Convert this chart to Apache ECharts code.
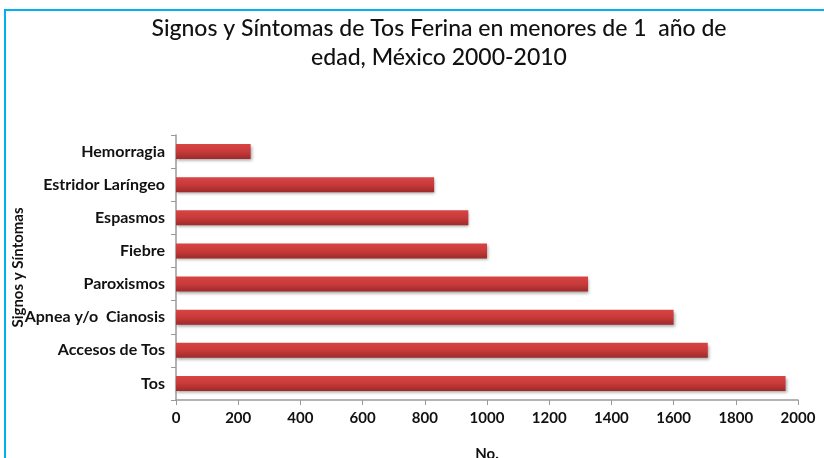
<!DOCTYPE html>
<html><head><meta charset="utf-8">
<script src="https://cdn.jsdelivr.net/npm/echarts@6/dist/echarts.min.js"></script>
<style>html,body{margin:0;padding:0;background:#fff}#c{width:824px;height:458px}</style>
</head><body><div id="c"></div>
<script>
const categories = ['Hemorragia','Estridor Laríngeo','Espasmos','Fiebre','Paroxismos','Apnea y/o  Cianosis','Accesos de Tos','Tos'];
const values = [240, 830, 940, 1000, 1325, 1600, 1710, 1960];
const xTicks = [0,200,400,600,800,1000,1200,1400,1600,1800,2000];

const chart = echarts.init(document.getElementById('c'));
const font = 'Lato, "Open Sans", sans-serif';
chart.setOption({
  animation: false,
  backgroundColor: '#fff',
  title: {
    text: 'Signos y Síntomas de Tos Ferina en menores de 1  año de\nedad, México 2000-2010',
    left: 434, top: 9, textAlign: 'center',
    textStyle: {fontFamily: font, fontSize: 23, fontWeight: 500, color: '#111', lineHeight: 29}
  },
  graphic: [{
    type: 'rect', shape: {x: 5, y: 10, width: 900, height: 600},
    style: {fill: 'none', stroke: '#00b0f0', lineWidth: 2}, silent: true
  }],
  grid: {left: 176, right: 26, top: 135, bottom: 58, containLabel: false, outerBoundsMode: 'none'},
  xAxis: {
    type: 'value', min: 0, max: 2000, interval: 200,
    name: 'No.', nameLocation: 'middle', nameGap: 47,
    nameTextStyle: {fontFamily: font, fontSize: 15, fontWeight: 'bold', color: '#111'},
    axisLine: {show: true, lineStyle: {color: '#9a9a9a', width: 1.5}},
    axisTick: {show: true, length: 5, lineStyle: {color: '#9a9a9a'}},
    axisLabel: {fontFamily: font, fontSize: 15, fontWeight: 'bold', color: '#111', margin: 11,
      formatter: v => xTicks.includes(v) ? String(v) : ''},
    splitLine: {show: false}
  },
  yAxis: {
    type: 'category', data: categories, inverse: true,
    name: 'Signos y Síntomas', nameLocation: 'middle', nameGap: 150, nameRotate: 90,
    nameMoveOverlap: false,
    nameTextStyle: {fontFamily: font, fontSize: 15, fontWeight: 'bold', color: '#111'},
    axisLine: {show: true, lineStyle: {color: '#9a9a9a', width: 1.5}},
    axisTick: {show: true, length: 5, alignWithLabel: false, lineStyle: {color: '#9a9a9a'}},
    axisLabel: {fontFamily: font, fontSize: 16, fontWeight: 'bold', color: '#111', margin: 11}
  },
  series: [{
    type: 'bar', data: values, barWidth: 15,
    itemStyle: {
      color: new echarts.graphic.LinearGradient(0, 0, 0, 1, [
        {offset: 0, color: '#d84444'}, {offset: 0.5, color: '#c83a3a'}, {offset: 1, color: '#9e2a2a'}
      ]),
      shadowColor: 'rgba(0,0,0,0.35)', shadowBlur: 3, shadowOffsetX: 1, shadowOffsetY: 2
    }
  }]
});
</script></body></html>
